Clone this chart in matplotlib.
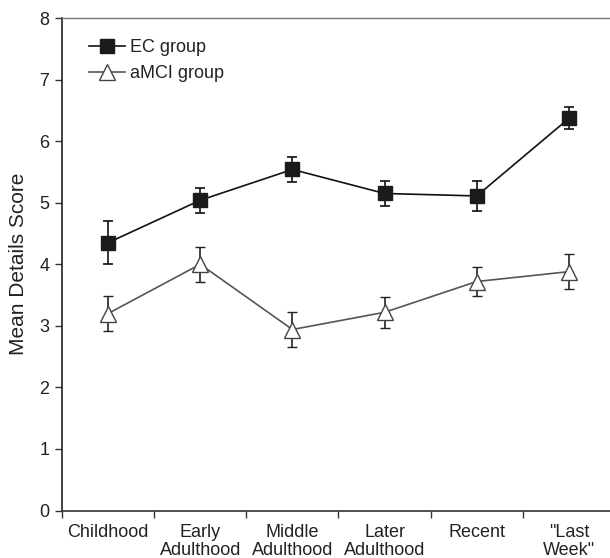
import matplotlib.pyplot as plt
from matplotlib.lines import Line2D
import numpy as np

plt.rcParams['font.family'] = ['Liberation Sans', 'DejaVu Sans']

# values
periods = ['Childhood', 'Early\nAdulthood', 'Middle\nAdulthood', 'Later\nAdulthood', 'Recent', '"Last\nWeek"']
ec_mean = [4.35, 5.04, 5.54, 5.15, 5.11, 6.37]
ec_err = [0.35, 0.20, 0.21, 0.20, 0.24, 0.18]
amci_mean = [3.20, 4.00, 2.94, 3.22, 3.72, 3.88]
amci_err = [0.28, 0.28, 0.28, 0.25, 0.24, 0.28]

x = np.arange(len(periods))

fig = plt.figure(figsize=(6.1, 5.58), dpi=100)
ax = fig.add_axes([0.1016, 0.0851, 0.9066, 0.8826])

ec_style = dict(color='#111111', lw=1.2, marker='s', markersize=10,
                markerfacecolor='#1a1a1a', markeredgecolor='#1a1a1a')
amci_style = dict(color='#555555', lw=1.2, marker='^', markersize=11,
                  markerfacecolor='white', markeredgecolor='#444444',
                  markeredgewidth=1.0)

ax.errorbar(x, ec_mean, yerr=ec_err, ecolor='#111111', elinewidth=1.2,
            capsize=3.5, capthick=1.2, zorder=3, **ec_style)
ax.errorbar(x, amci_mean, yerr=amci_err, ecolor='#222222', elinewidth=1.2,
            capsize=3.5, capthick=1.2, zorder=3, **amci_style)

ax.set_xlim(-0.5, 5.5)
ax.set_ylim(0, 8)
ax.set_yticks(range(0, 9))
ax.set_xticks(x)
ax.set_xticklabels(periods, fontsize=13, linespacing=1.05, color='#222222')
ax.set_xticks(np.arange(-0.5, 6.0, 1.0), minor=True)
ax.tick_params(axis='x', which='major', length=0, pad=10)
ax.tick_params(axis='x', which='minor', length=5, width=1.0, direction='out', color='#333333')
ax.tick_params(axis='y', length=5, width=1.0, direction='out', labelsize=13, pad=4,
               color='#333333', labelcolor='#222222')
ax.set_ylabel('Mean Details Score', fontsize=15, labelpad=8, color='#222222')

ax.spines['right'].set_visible(False)
ax.spines['left'].set_linewidth(1.2)
ax.spines['bottom'].set_linewidth(1.2)
ax.spines['left'].set_color('#222222')
ax.spines['bottom'].set_color('#333333')
ax.spines['top'].set_color('#777777')
ax.spines['top'].set_linewidth(1.0)

handles = [Line2D([], [], **ec_style), Line2D([], [], **amci_style)]
ax.legend(handles, ['EC group', 'aMCI group'], loc='upper left', frameon=False,
          fontsize=13, handlelength=2.0, handletextpad=0.3, labelspacing=0.5,
          borderaxespad=0.0, bbox_to_anchor=(0.035, 0.972), labelcolor='#222222')

fig.savefig('out.png', dpi=100)
